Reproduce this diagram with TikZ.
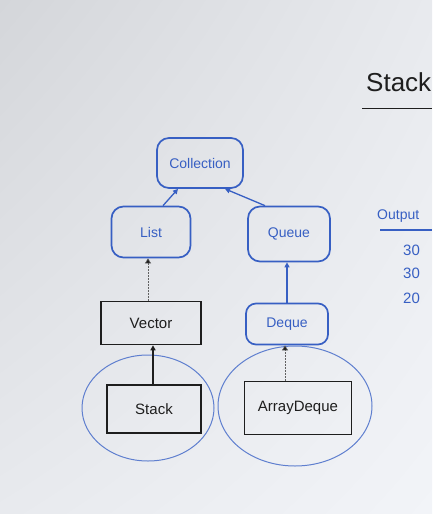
\documentclass[tikz,border=0pt]{standalone}
\usepackage{fontspec}
\setmainfont{Liberation Sans}
\usetikzlibrary{arrows.meta,shapes.geometric,shadings}
\definecolor{board}{RGB}{242,244,248}
\definecolor{boardmid}{RGB}{232,234,238}
\definecolor{boarddark}{RGB}{212,214,218}
\definecolor{pen}{RGB}{55,95,195}
\definecolor{ink}{RGB}{30,30,30}
\tikzset{
  iface/.style={draw=pen, line width=1.7pt, rounded corners=12pt, text=pen, font=\fontsize{14}{16}\selectfont, inner sep=0pt},
  cls/.style={draw=ink, line width=1.5pt, text=ink, font=\fontsize{15}{17}\selectfont, inner sep=0pt},
  blueedge/.style={draw=pen, line width=1.3pt, -{Triangle[length=5pt,width=5pt]}},
  blackedge/.style={draw=ink, line width=1.2pt, -{Triangle[length=5pt,width=5pt]}},
  dotedge/.style={draw=ink!70, line width=0.6pt, dash pattern=on 1.5pt off 1.5pt, -{Triangle[length=5pt,width=6pt,fill=ink]}},
  ring/.style={draw=pen!80, line width=1pt},
}
\begin{document}
\begin{tikzpicture}[x=1pt,y=-1pt]
\shade[upper left=boarddark, upper right=boardmid, lower left=boardmid, lower right=board] (0,0) rectangle (432,514);
\useasboundingbox (0,0) rectangle (432,514);
\clip (0,0) rectangle (432,514);
% nodes
\node[iface, minimum width=86pt, minimum height=50pt] (coll) at (200,163) {Collection};
\node[iface, minimum width=79pt, minimum height=51pt] (list) at (151,232) {List};
\node[iface, minimum width=82pt, minimum height=55pt] (queue) at (289,234) {Queue};
\node[cls, minimum width=100pt, minimum height=43pt] (vector) at (151,323) {Vector};
\node[iface, minimum width=82pt, minimum height=41pt, rounded corners=10pt] (deque) at (287,324) {Deque};
\node[cls, minimum width=94pt, minimum height=48pt] (stack) at (154,409) {Stack};
\node[cls, minimum width=107pt, minimum height=53pt] (adeque) at (298,408) {ArrayDeque};
% rings
\node[ring, ellipse, minimum width=132pt, minimum height=106pt] (ringL) at (148,408) {};
\node[ring, ellipse, minimum width=154pt, minimum height=120pt] (ringR) at (295,406) {};
% connectors
\draw[blueedge] ([xshift=12pt]list.north) -- ([xshift=-22pt]coll.south);
\draw[blueedge] ([xshift=-24pt]queue.north) -- ([xshift=25pt]coll.south);
\draw[dotedge] ([xshift=-3pt]vector.north) -- ([xshift=-3pt]list.south);
\draw[blueedge] (deque.north) -- (deque.north |- queue.south);
\draw[blackedge] ([xshift=-1pt]stack.north) -- ([xshift=-1pt]stack.north |- vector.south);
\draw[dotedge] ([xshift=-13pt]adeque.north) -- ([xshift=-13pt]adeque.north |- deque.south);
% right side
\node[anchor=west, text=ink, font=\fontsize{26}{30}\selectfont, inner sep=0pt] (title) at (366,82) {Stack};
\coordinate (tl) at (362,108);
\coordinate (tr) at (432,108);
\draw[ink, line width=1pt] (tl) -- (tr);
\node[anchor=west, text=pen, font=\fontsize{14}{16}\selectfont, inner sep=0pt] (out) at (377,216) {Output};
\coordinate (ol) at (380,230);
\coordinate (or) at (432,230);
\draw[pen, line width=1.2pt] (ol) -- (or);
\node[anchor=west, text=pen, font=\fontsize{15}{17}\selectfont, inner sep=0pt] (n1) at (403,250) {30};
\node[anchor=west, text=pen, font=\fontsize{15}{17}\selectfont, inner sep=0pt] (n2) at (403,273) {30};
\node[anchor=west, text=pen, font=\fontsize{15}{17}\selectfont, inner sep=0pt] (n3) at (403,298) {20};
\end{tikzpicture}
\end{document}
